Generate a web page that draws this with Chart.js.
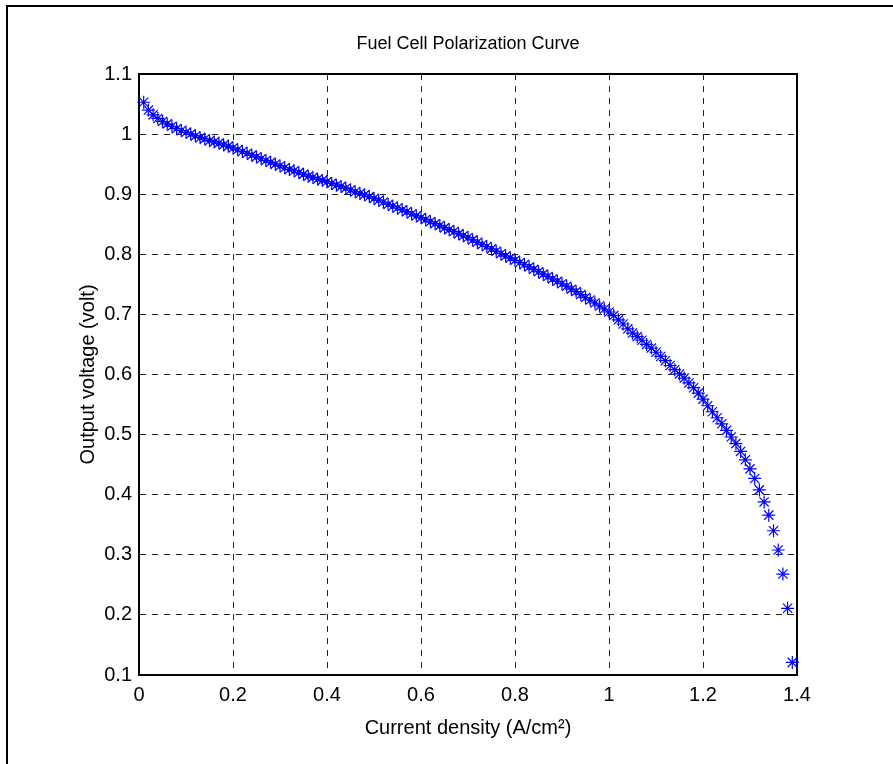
<!DOCTYPE html>
<html><head><meta charset="utf-8">
<script src="https://cdn.jsdelivr.net/npm/chart.js@4.4.1/dist/chart.umd.min.js"></script>
<style>
html,body{margin:0;padding:0;background:#fff;}
#wrap{position:relative;width:893px;height:764px;overflow:hidden;background:#fff;}
#frame{position:absolute;left:6px;top:5px;width:1000px;height:1000px;border-left:2px solid #000;border-top:2px solid #000;}
#c{position:absolute;left:0;top:0;}
</style></head><body>
<div id="wrap"><div id="frame"></div><canvas id="c" width="893" height="764"></canvas></div>
<script>
const chartTitle = 'Fuel Cell Polarization Curve';
const xAxisTitle = 'Current density (A/cm\u00B2)';
const yAxisTitle = 'Output voltage (volt)';
const xTickLabels = ['0','0.2','0.4','0.6','0.8','1','1.2','1.4'];
const yTickLabels = ['0.1','0.2','0.3','0.4','0.5','0.6','0.7','0.8','0.9','1','1.1'];
const xValues = [
0.01,0.02,0.03,0.04,0.05,0.06,0.07,0.08,0.09,0.10,
0.11,0.12,0.13,0.14,0.15,0.16,0.17,0.18,0.19,0.20,
0.21,0.22,0.23,0.24,0.25,0.26,0.27,0.28,0.29,0.30,
0.31,0.32,0.33,0.34,0.35,0.36,0.37,0.38,0.39,0.40,
0.41,0.42,0.43,0.44,0.45,0.46,0.47,0.48,0.49,0.50,
0.51,0.52,0.53,0.54,0.55,0.56,0.57,0.58,0.59,0.60,
0.61,0.62,0.63,0.64,0.65,0.66,0.67,0.68,0.69,0.70,
0.71,0.72,0.73,0.74,0.75,0.76,0.77,0.78,0.79,0.80,
0.81,0.82,0.83,0.84,0.85,0.86,0.87,0.88,0.89,0.90,
0.91,0.92,0.93,0.94,0.95,0.96,0.97,0.98,0.99,1.00,
1.01,1.02,1.03,1.04,1.05,1.06,1.07,1.08,1.09,1.10,
1.11,1.12,1.13,1.14,1.15,1.16,1.17,1.18,1.19,1.20,
1.21,1.22,1.23,1.24,1.25,1.26,1.27,1.28,1.29,1.30,
1.31,1.32,1.33,1.34,1.35,1.36,1.37,1.38,1.39];
const voltageValues = [
1.053,1.040,1.032,1.026,1.021,1.017,1.013,1.009,1.006,1.003,
1.000,0.997,0.994,0.992,0.989,0.987,0.985,0.982,0.980,0.977,
0.974,0.971,0.968,0.965,0.962,0.959,0.956,0.953,0.950,0.947,
0.944,0.941,0.939,0.936,0.933,0.930,0.928,0.925,0.923,0.921,
0.918,0.915,0.913,0.910,0.907,0.904,0.901,0.899,0.896,0.893,
0.890,0.887,0.883,0.880,0.877,0.874,0.871,0.867,0.864,0.861,
0.858,0.854,0.851,0.848,0.844,0.841,0.838,0.834,0.831,0.828,
0.824,0.820,0.816,0.813,0.809,0.805,0.801,0.797,0.794,0.790,
0.786,0.783,0.779,0.775,0.771,0.767,0.763,0.759,0.755,0.751,
0.747,0.742,0.738,0.733,0.728,0.724,0.719,0.714,0.709,0.704,
0.698,0.691,0.684,0.676,0.669,0.663,0.657,0.650,0.644,0.637,
0.630,0.623,0.615,0.608,0.601,0.594,0.586,0.578,0.569,0.559,
0.548,0.538,0.528,0.518,0.507,0.496,0.485,0.472,0.458,0.443,
0.427,0.408,0.388,0.366,0.340,0.308,0.268,0.211,0.121];

const FONT = "'Liberation Sans', Arial, Helvetica, sans-serif";

const boxPlugin = {
  id: 'boxPlugin',
  beforeDatasetsDraw(chart) {
    const {ctx, chartArea: a} = chart;
    ctx.save();
    ctx.strokeStyle = '#000';
    ctx.lineWidth = 2;
    ctx.setLineDash([]);
    ctx.strokeRect(a.left, a.top, a.right - a.left, a.bottom - a.top);
    ctx.restore();
  },
  afterDraw(chart) {
    const {ctx, chartArea: a} = chart;
    ctx.save();
    ctx.fillStyle = '#000';
    ctx.font = '18px ' + FONT;
    ctx.textAlign = 'center';
    ctx.textBaseline = 'middle';
    ctx.fillText(chartTitle, (a.left + a.right) / 2, 44);
    ctx.restore();
  }
};

new Chart(document.getElementById('c'), {
  type: 'scatter',
  data: {
    datasets: [{
      data: xValues.map((x, i) => ({x: x, y: voltageValues[i]})),
      pointStyle: 'star',
      pointRadius: 6.5,
      pointBorderColor: '#0000ff',
      pointBackgroundColor: 'rgba(0,0,0,0)',
      pointBorderWidth: 1.2,
      showLine: false,
      clip: false
    }]
  },
  options: {
    responsive: false,
    animation: false,
    devicePixelRatio: 1,
    layout: {padding: {left: 0, top: 74, right: 96, bottom: 0}},
    plugins: {legend: {display: false}, title: {display: false}, tooltip: {enabled: false}},
    scales: {
      x: {
        type: 'linear', min: 0, max: 1.4,
        ticks: {stepSize: 0.2, autoSkip: false, maxRotation: 0, padding: 8, color: '#000',
          font: {family: FONT, size: 20},
          callback: (v, i) => xTickLabels[i]},
        grid: {color: '#222', lineWidth: 1, drawTicks: false},
        border: {display: true, color: '#000', width: 2, dash: [6, 6]},
        title: {display: true, text: xAxisTitle, color: '#000', font: {family: FONT, size: 20}, padding: {top: 0, bottom: 24}},
        afterFit(s) { s.height = 89; }
      },
      y: {
        type: 'linear', min: 0.1, max: 1.1,
        ticks: {stepSize: 0.1, autoSkip: false, padding: 7, color: '#000',
          font: {family: FONT, size: 20},
          callback: (v, i) => yTickLabels[i]},
        grid: {color: '#222', lineWidth: 1, drawTicks: false},
        border: {display: true, color: '#000', width: 2, dash: [6, 6]},
        title: {display: true, text: yAxisTitle, color: '#000', font: {family: FONT, size: 20}, padding: {top: 76, bottom: 0}},
        afterFit(s) { s.width = 139; }
      }
    }
  },
  plugins: [boxPlugin]
});
</script>
</body></html>
